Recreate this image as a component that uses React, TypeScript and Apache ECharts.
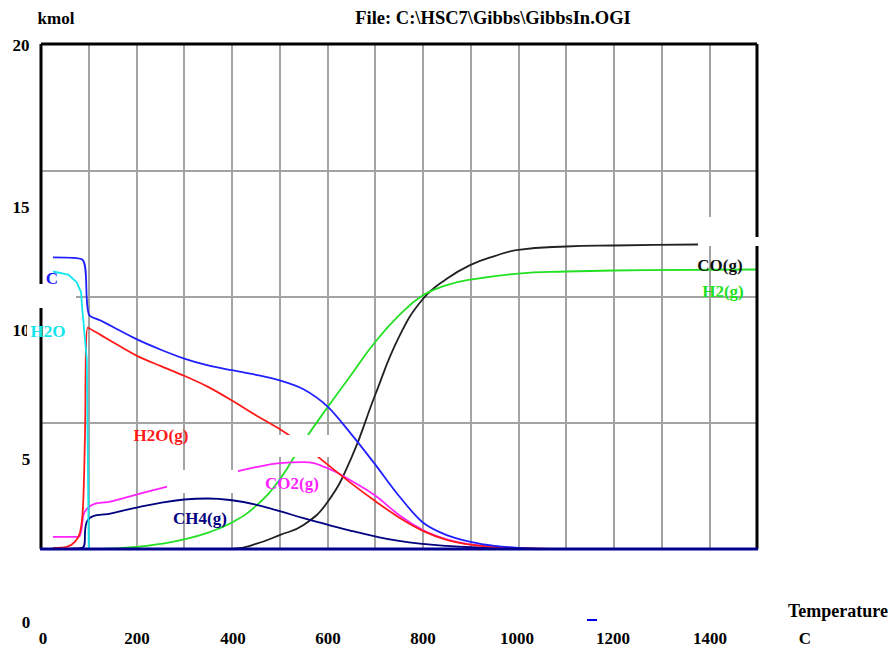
import React, { useEffect, useRef } from "react";
import * as echarts from "echarts";

// Temperature (C) / amount (kmol) pairs
const C_s: number[][] = [[25, 11.55], [86, 11.47], [100, 9.3], [125, 9.05], [150, 8.8], [200, 8.31], [250, 7.9], [300, 7.54], [350, 7.27], [400, 7.08], [450, 6.9], [500, 6.68], [550, 6.33], [600, 5.65], [650, 4.55], [700, 3.35], [750, 2.1], [800, 1.05], [850, 0.55], [900, 0.28], [950, 0.12], [1000, 0.04], [1050, 0], [1500, 0]];
const H2O_l: number[][] = [[25, 10.99], [57, 10.87], [75, 10.56], [84, 10.16], [86, 9.6], [96, 7.5], [100, 0], [1500, 0]];
const H2O_g: number[][] = [[25, 0.04], [54, 0.08], [71, 0.28], [82, 0.67], [88, 1.67], [92, 4.33], [98, 8.77], [124, 8.49], [150, 8.2], [200, 7.66], [250, 7.25], [300, 6.86], [350, 6.42], [400, 5.88], [450, 5.3], [500, 4.75], [550, 4.1], [600, 3.35], [650, 2.6], [700, 1.9], [750, 1.25], [800, 0.72], [850, 0.36], [900, 0.17], [950, 0.08], [1000, 0.04], [1100, 0], [1500, 0]];
const CO2_g: number[][] = [[25, 0.48], [78, 0.48], [82, 0.55], [98, 1.63], [150, 1.9], [200, 2.15], [250, 2.4], [300, 2.62], [350, 2.82], [400, 3.03], [450, 3.24], [500, 3.4], [550, 3.44], [600, 3.2], [650, 2.7], [700, 2.12], [750, 1.35], [800, 0.75], [850, 0.38], [900, 0.18], [950, 0.09], [1000, 0.03], [1050, 0], [1500, 0]];
const CH4_g: number[][] = [[25, 0], [86, 0.04], [98, 1.15], [150, 1.42], [200, 1.64], [250, 1.83], [300, 1.96], [350, 2.0], [400, 1.93], [450, 1.76], [500, 1.5], [550, 1.22], [600, 0.97], [650, 0.72], [700, 0.5], [750, 0.32], [800, 0.2], [850, 0.12], [900, 0.07], [1000, 0.02], [1100, 0], [1500, 0]];
const H2_g: number[][] = [[25, 0], [100, 0], [150, 0.02], [200, 0.08], [250, 0.2], [300, 0.38], [350, 0.65], [400, 1.05], [450, 1.7], [500, 2.75], [550, 4.25], [600, 5.6], [650, 6.9], [700, 8.2], [750, 9.25], [800, 10.05], [850, 10.45], [900, 10.67], [1000, 10.91], [1100, 10.99], [1200, 11.03], [1500, 11.07]];
const CO_g: number[][] = [[25, 0], [400, 0], [450, 0.2], [500, 0.55], [550, 0.95], [600, 1.85], [650, 3.6], [700, 6.1], [750, 8.4], [800, 9.9], [850, 10.7], [900, 11.25], [950, 11.6], [1000, 11.85], [1100, 11.98], [1200, 12.02], [1374, 12.06], [1500, 12.07]];

const xTickLabels = ["0", "200", "400", "600", "800", "1000", "1200", "1400"];
const xTickPos = [43, 137, 233, 328, 423, 517, 613, 710];
const yTickLabels = ["20", "15", "10", "5", "0"];
const yTickPos = [45, 207, 330, 459, 622];
const yTickX = [21, 21, 21, 26, 26];

const FONT = "Liberation Serif";

export default function App() {
  const ref = useRef<HTMLDivElement>(null);
  useEffect(() => {
    document.body.style.margin = "0";
    const chart = echarts.init(ref.current!, undefined, { renderer: "svg" });
    const txt = (text: string, x: number, y: number, fill: string, z = 70, size = 17) => ({
      type: "text",
      x,
      y,
      z,
      style: { text, fill, font: `bold ${size}px "${FONT}"`, textAlign: "center", textVerticalAlign: "middle" },
    });
    const rect = (x: number, y: number, w: number, h: number) => ({
      type: "rect",
      z: 60,
      shape: { x, y, width: w, height: h },
      style: { fill: "#ffffff" },
    });
    const ln = (x1: number, y1: number, x2: number, y2: number, stroke: string) => ({
      type: "line",
      z: 50,
      shape: { x1, y1, x2, y2 },
      style: { stroke, lineWidth: 3 },
    });
    const mk = (name: string, data: number[][], color: string, smooth: number | boolean = 0.45) => ({
      name,
      type: "line",
      data,
      showSymbol: false,
      symbol: "none",
      smooth,
      lineStyle: { color, width: 1.8 },
      z: 2,
    });
    const graphics: any[] = [
      ...yTickLabels.map((t, i) => txt(t, yTickX[i], yTickPos[i], "#000", 40)),
      ...xTickLabels.map((t, i) => txt(t, xTickPos[i], 638, "#000", 40)),
      txt("kmol", 56, 18, "#000"),
      txt("File: C:\\HSC7\\Gibbs\\GibbsIn.OGI", 493, 18, "#000", 70, 18.5),
      txt("Temperature", 838, 611, "#000", 70, 18),
      txt("C", 805, 638, "#000"),
      { type: "rect", z: 70, shape: { x: 587, y: 619, width: 10, height: 2 }, style: { fill: "#0000ee" } },
      ln(41, 44, 757, 44, "#000"),
      ln(41, 44, 41, 549, "#000"),
      ln(757, 44, 757, 549, "#000"),
      ln(40, 549, 758, 549, "#000090"),
      rect(167, 470, 71, 23),
      rect(258, 435, 92, 22),
      rect(33, 284, 43, 24),
      rect(27, 320, 12, 22),
      rect(698, 217, 54, 29),
      rect(752, 237, 10, 9),
      txt("C", 52, 278, "#1a1aff"),
      txt("H2O", 48, 331, "#11e6ee"),
      txt("H2O(g)", 161, 435, "#ff1a1a"),
      txt("CO2(g)", 292, 483, "#ff22ff"),
      txt("CH4(g)", 200, 518, "#000080"),
      txt("CO(g)", 720, 265, "#111"),
      txt("H2(g)", 723, 291, "#22e022"),
    ];
    chart.setOption({
      animation: false,
      backgroundColor: "#ffffff",
      grid: { left: 41, top: 44, width: 716, height: 505, containLabel: false },
      xAxis: {
        type: "value",
        min: 0,
        max: 1500,
        interval: 100,
        axisLine: { show: false },
        axisTick: { show: false },
        axisLabel: { show: false },
        splitLine: { show: true, lineStyle: { color: "#a3a3a3", width: 2 } },
      },
      yAxis: {
        type: "value",
        min: 0,
        max: 20,
        interval: 5,
        axisLine: { show: false },
        axisTick: { show: false },
        axisLabel: { show: false },
        splitLine: { show: true, lineStyle: { color: "#a3a3a3", width: 2 } },
      },
      series: [
        mk("CO(g)", CO_g, "#222222"),
        mk("H2(g)", H2_g, "#22e022"),
        mk("CH4(g)", CH4_g, "#000080"),
        mk("CO2(g)", CO2_g, "#ff22ff"),
        mk("H2O(g)", H2O_g, "#ff1a1a", 0.3),
        mk("H2O", H2O_l, "#11e6ee", false),
        mk("C", C_s, "#2020ff", 0.3),
      ],
      graphic: { elements: graphics },
    });
    return () => chart.dispose();
  }, []);
  return <div ref={ref} style={{ width: 894, height: 648 }} />;
}
